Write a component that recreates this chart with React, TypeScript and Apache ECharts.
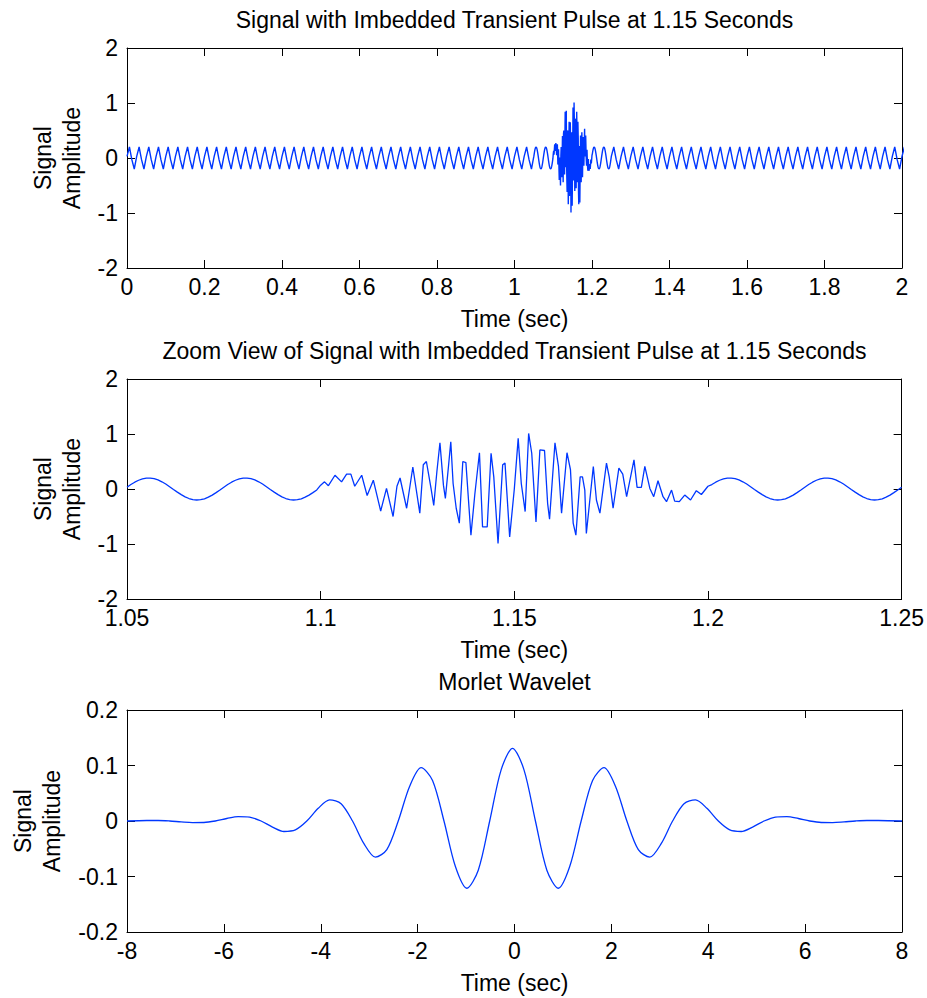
import React, { useEffect, useRef } from "react";
import * as echarts from "echarts";

// ---------- DATA ----------

// Panel 1 overview: 40 Hz background, sampled every quarter period
const OVERVIEW_DT = 0.00625;
const OVERVIEW_BEFORE_START = 0;
const OVERVIEW_BEFORE: number[] = [
  0.03, 0.2, -0.03, -0.2, 0.03, 0.2, -0.03, -0.2, 0.03, 0.2, -0.03, -0.2, 0.03, 0.2, -0.03, -0.2,
  0.03, 0.2, -0.03, -0.2, 0.03, 0.2, -0.03, -0.2, 0.03, 0.2, -0.03, -0.2, 0.03, 0.2, -0.03, -0.2,
  0.03, 0.2, -0.03, -0.2, 0.03, 0.2, -0.03, -0.2, 0.03, 0.2, -0.03, -0.2, 0.03, 0.2, -0.03, -0.2,
  0.03, 0.2, -0.03, -0.2, 0.03, 0.2, -0.03, -0.2, 0.03, 0.2, -0.03, -0.2, 0.03, 0.2, -0.03, -0.2,
  0.03, 0.2, -0.03, -0.2, 0.03, 0.2, -0.03, -0.2, 0.03, 0.2, -0.03, -0.2, 0.03, 0.2, -0.03, -0.2,
  0.03, 0.2, -0.03, -0.2, 0.03, 0.2, -0.03, -0.2, 0.03, 0.2, -0.03, -0.2, 0.03, 0.2, -0.03, -0.2,
  0.03, 0.2, -0.03, -0.2, 0.03, 0.2, -0.03, -0.2, 0.03, 0.2, -0.03, -0.2, 0.03, 0.2, -0.03, -0.2,
  0.03, 0.2, -0.03, -0.2, 0.03, 0.2, -0.03, -0.2, 0.03, 0.2, -0.03, -0.2, 0.03, 0.2, -0.03, -0.2,
  0.03, 0.2, -0.03, -0.2, 0.03, 0.2, -0.03, -0.2, 0.03, 0.2, -0.03, -0.2, 0.03, 0.2, -0.03, -0.2,
  0.03, 0.2, -0.03, -0.2, 0.03, 0.2, -0.03, -0.2, 0.03, 0.2, -0.03, -0.2, 0.03, 0.2, -0.03, -0.2,
  0.03, 0.2, -0.03, -0.2, 0.03, 0.2, -0.03, -0.2,
];
const OVERVIEW_AFTER_START = 1.25625;
const OVERVIEW_AFTER: number[] = [
  0.2, -0.03, -0.2,
  0.03, 0.2, -0.03, -0.2, 0.03, 0.2, -0.03, -0.2, 0.03, 0.2, -0.03, -0.2, 0.03, 0.2, -0.03, -0.2,
  0.03, 0.2, -0.03, -0.2, 0.03, 0.2, -0.03, -0.2, 0.03, 0.2, -0.03, -0.2, 0.03, 0.2, -0.03, -0.2,
  0.03, 0.2, -0.03, -0.2, 0.03, 0.2, -0.03, -0.2, 0.03, 0.2, -0.03, -0.2, 0.03, 0.2, -0.03, -0.2,
  0.03, 0.2, -0.03, -0.2, 0.03, 0.2, -0.03, -0.2, 0.03, 0.2, -0.03, -0.2, 0.03, 0.2, -0.03, -0.2,
  0.03, 0.2, -0.03, -0.2, 0.03, 0.2, -0.03, -0.2, 0.03, 0.2, -0.03, -0.2, 0.03, 0.2, -0.03, -0.2,
  0.03, 0.2, -0.03, -0.2, 0.03, 0.2, -0.03, -0.2, 0.03, 0.2, -0.03, -0.2, 0.03, 0.2, -0.03, -0.2,
  0.03, 0.2, -0.03, -0.2, 0.03, 0.2, -0.03, -0.2, 0.03, 0.2, -0.03, -0.2, 0.03, 0.2, -0.03, -0.2,
  0.03, 0.2, -0.03, -0.2, 0.03, 0.2, -0.03, -0.2, 0.03, 0.2, -0.03, -0.2,
  0.03,
];

// Panel 2 zoom: smooth 40 Hz parts sampled every 1 ms
const ZOOM_DT = 0.001;
const ZOOM_LEAD_START = 1.05;
const ZOOM_LEAD: number[] = [
  0.033, 0.081, 0.124, 0.159, 0.184, 0.198, 0.199, 0.188, 0.165, 0.131, 0.09, 0.042, -0.008,
  -0.057, -0.103, -0.142, -0.173, -0.192, -0.2, -0.195, -0.178, -0.149, -0.111, -0.066, -0.017,
  0.033, 0.081, 0.124, 0.159, 0.184, 0.198, 0.199, 0.188, 0.165, 0.131, 0.09, 0.042, -0.008,
  -0.057, -0.103, -0.142, -0.173, -0.192, -0.2, -0.195, -0.178, -0.149, -0.111, -0.066, -0.017,
];
// Transient pulse: [time (s), amplitude]
const BURST: [number, number][] = [
  [1.1, 0.07], [1.101, 0.13], [1.102, 0.06], [1.1037, 0.25], [1.1054, 0.13], [1.1067, 0.27],
  [1.1078, 0.27], [1.1088, 0.05], [1.1106, 0.25], [1.112, -0.12], [1.1136, 0.16], [1.1155, -0.4],
  [1.117, 0.01], [1.1187, -0.5], [1.1197, 0.05], [1.1205, 0.2], [1.1222, -0.35], [1.1238, 0.4],
  [1.1256, -0.44], [1.1265, 0.44], [1.1273, 0.5], [1.1285, 0.01], [1.1292, -0.3], [1.13, 0.31],
  [1.1308, 0.84], [1.1317, 0.07], [1.1322, -0.17], [1.133, 0.41], [1.1336, 0.86], [1.1342, 0.1],
  [1.135, -0.35], [1.1358, -0.62], [1.1367, 0.5], [1.1375, 0.48], [1.1388, -0.84], [1.1398, -0.1],
  [1.141, 0.66], [1.1418, -0.69], [1.143, -0.69], [1.144, 0.65], [1.1447, 0.22], [1.1458, -0.99],
  [1.147, 0.44], [1.1476, 0.47], [1.1488, -0.87], [1.15, 0.0], [1.151, 0.92], [1.1518, 0.1],
  [1.1528, -0.41], [1.1537, 1.01], [1.1545, 0.65], [1.1556, -0.6], [1.1566, 0.71], [1.1578, 0.7],
  [1.1586, -0.26], [1.1591, -0.55], [1.1605, 0.84], [1.1614, 0.41], [1.1622, -0.44], [1.1636, 0.66],
  [1.1645, 0.35], [1.1652, -0.62], [1.1659, -0.84], [1.167, 0.22], [1.1676, 0.22], [1.1682, -0.02],
  [1.1686, -0.81], [1.1704, 0.41], [1.1712, -0.2], [1.1721, -0.44], [1.1738, 0.47], [1.1745, 0.22],
  [1.1755, -0.35], [1.177, 0.38], [1.178, 0.27], [1.179, -0.14], [1.1809, 0.53], [1.1817, 0.03],
  [1.1828, 0.03], [1.1837, 0.41], [1.185, 0.01], [1.186, -0.14], [1.1871, 0.15], [1.1884, -0.14],
  [1.1893, -0.23], [1.1906, -0.02], [1.1914, -0.22], [1.1926, -0.23], [1.194, -0.11], [1.1955, -0.2],
  [1.197, -0.03], [1.1983, -0.1], [1.2, 0.05],
];
const ZOOM_TAIL_START = 1.201;
const ZOOM_TAIL: number[] = [
  0.081, 0.124, 0.159, 0.184, 0.198, 0.199, 0.188, 0.165, 0.131, 0.09, 0.042, -0.008,
  -0.057, -0.103, -0.142, -0.173, -0.192, -0.2, -0.195, -0.178, -0.149, -0.111, -0.066, -0.017,
  0.033, 0.081, 0.124, 0.159, 0.184, 0.198, 0.199, 0.188, 0.165, 0.131, 0.09, 0.042, -0.008,
  -0.057, -0.103, -0.142, -0.173, -0.192, -0.2, -0.195, -0.178, -0.149, -0.111, -0.066, -0.017,
  0.033,
];

// Panel 3: Morlet wavelet [time, amplitude]
const WAVELET: [number, number][] = [
  [-8, 0], [-7.592, 0.0009], [-7.356, 0.0009], [-7.12, 0], [-6.884, -0.0016], [-6.648, -0.0029],
  [-6.412, -0.0027], [-6.176, 0], [-5.94, 0.0045], [-5.704, 0.008], [-5.468, 0.0071], [-5.232, 0],
  [-4.996, -0.0109], [-4.76, -0.0189], [-4.524, -0.0161], [-4.288, 0], [-4.052, 0.0229],
  [-3.816, 0.0379], [-3.58, 0.0312], [-3.344, 0], [-3.108, -0.0409], [-2.872, -0.0652],
  [-2.636, -0.0516], [-2.4, 0], [-2.164, 0.0626], [-1.928, 0.0961], [-1.692, 0.0731], [-1.456, 0],
  [-1.22, -0.0821], [-0.984, -0.1212], [-0.748, -0.0887], [-0.512, 0], [-0.276, 0.0922],
  [-0.04, 0.131], [0.196, 0.0922], [0.432, 0], [0.668, -0.0887], [0.904, -0.1212], [1.14, -0.0821],
  [1.376, 0], [1.612, 0.0731], [1.848, 0.0961], [2.084, 0.0626], [2.32, 0], [2.556, -0.0516],
  [2.792, -0.0652], [3.028, -0.0409], [3.264, 0], [3.5, 0.0312], [3.736, 0.0379], [3.972, 0.0229],
  [4.208, 0], [4.444, -0.0161], [4.68, -0.0189], [4.916, -0.0109], [5.152, 0], [5.388, 0.0071],
  [5.624, 0.008], [5.86, 0.0045], [6.096, 0], [6.332, -0.0027], [6.568, -0.0029], [6.804, -0.0016],
  [7.04, 0], [7.276, 0.0009], [7.512, 0.0009], [8, 0],
];

// Texts
const TITLES = [
  "Signal with Imbedded Transient Pulse at 1.15 Seconds",
  "Zoom View of Signal with Imbedded Transient Pulse at 1.15 Seconds",
  "Morlet Wavelet",
];
const X_NAME = "Time (sec)";
const Y_NAME = "Signal\nAmplitude";

// Axis ranges
const X_RANGES = [
  { min: 0, max: 2, interval: 0.2 },
  { min: 1.05, max: 1.25, interval: 0.05 },
  { min: -8, max: 8, interval: 2 },
];
const Y_RANGES = [
  { min: -2, max: 2, interval: 1 },
  { min: -2, max: 2, interval: 1 },
  { min: -0.2, max: 0.2, interval: 0.1 },
];

// ---------- CHART ----------

const FONT = "'Liberation Sans', Arial, Helvetica, sans-serif";
const FS = 23;
const LINE_COLOR = "#0037ff";

const sampled = (start: number, dt: number, values: number[]): [number, number][] =>
  values.map((v, i) => [Number((start + i * dt).toFixed(6)), v]);

const fmt = (v: number) => String(Number(v.toFixed(4)));

export default function App() {
  const ref = useRef<HTMLDivElement>(null);

  useEffect(() => {
    if (!ref.current) return;
    const chart = echarts.init(ref.current, undefined, { renderer: "svg" });

    const zoomData: [number, number][] = [
      ...sampled(ZOOM_LEAD_START, ZOOM_DT, ZOOM_LEAD),
      ...BURST,
      ...sampled(ZOOM_TAIL_START, ZOOM_DT, ZOOM_TAIL),
    ];
    const overviewData: [number, number][] = [
      ...sampled(OVERVIEW_BEFORE_START, OVERVIEW_DT, OVERVIEW_BEFORE),
      ...zoomData,
      ...sampled(OVERVIEW_AFTER_START, OVERVIEW_DT, OVERVIEW_AFTER),
    ];

    const grids = [
      { left: 127, top: 48, width: 775, height: 220 },
      { left: 127, top: 379, width: 775, height: 220 },
      { left: 127, top: 710, width: 775, height: 222 },
    ];
    const titleTops = [8, 339, 670];
    const yNameGaps = [41, 41, 61];

    const textStyle = { color: "#000", fontSize: FS, fontFamily: FONT, fontWeight: "normal" as const };
    const lineStyle = { color: "#000", width: 1 };

    const xAxes: any[] = [];
    const yAxes: any[] = [];
    grids.forEach((_, g) => {
      const xr = X_RANGES[g];
      const yr = Y_RANGES[g];
      xAxes.push({
        type: "value", gridIndex: g, position: "bottom", ...xr,
        axisLine: { show: true, onZero: false, lineStyle },
        axisTick: { show: true, inside: true, length: 8, lineStyle },
        axisLabel: { show: true, margin: 10, ...textStyle, lineHeight: 17, formatter: fmt },
        splitLine: { show: false },
        name: X_NAME, nameLocation: "middle", nameGap: 39, nameTextStyle: textStyle,
      });
      xAxes.push({
        type: "value", gridIndex: g, position: "top", ...xr,
        axisLine: { show: true, onZero: false, lineStyle },
        axisTick: { show: true, inside: true, length: 8, lineStyle },
        axisLabel: { show: false },
        splitLine: { show: false },
      });
      yAxes.push({
        type: "value", gridIndex: g, position: "left", ...yr,
        axisLine: { show: true, onZero: false, lineStyle },
        axisTick: { show: true, inside: true, length: 8, lineStyle },
        axisLabel: { show: true, margin: 9, ...textStyle, lineHeight: 17, formatter: fmt },
        splitLine: { show: false },
        name: Y_NAME, nameLocation: "middle", nameRotate: 90, nameGap: yNameGaps[g],
        nameTextStyle: { ...textStyle, lineHeight: 29, align: "center" },
      });
      yAxes.push({
        type: "value", gridIndex: g, position: "right", ...yr,
        axisLine: { show: true, onZero: false, lineStyle },
        axisTick: { show: true, inside: true, length: 8, lineStyle },
        axisLabel: { show: false },
        splitLine: { show: false },
      });
    });

    const datasets = [overviewData, zoomData, WAVELET];

    chart.setOption({
      animation: false,
      backgroundColor: "#fff",
      title: TITLES.map((t, g) => ({
        text: t,
        left: grids[g].left + grids[g].width / 2,
        top: titleTops[g],
        textAlign: "center",
        textStyle: { ...textStyle },
        padding: 0,
      })),
      grid: grids,
      xAxis: xAxes,
      yAxis: yAxes,
      series: datasets.map((d, g) => ({
        type: "line",
        xAxisIndex: 2 * g,
        yAxisIndex: 2 * g,
        data: d,
        showSymbol: false,
        symbol: "none",
        smooth: g === 2 ? 0.3 : false,
        clip: true,
        lineStyle: { color: LINE_COLOR, width: g === 0 ? 1.4 : 1.3 },
        emphasis: { disabled: true },
      })),
    });

    return () => chart.dispose();
  }, []);

  return (
    <div
      ref={ref}
      style={{ position: "absolute", left: 0, top: 0, width: 927, height: 998, background: "#fff" }}
    />
  );
}
